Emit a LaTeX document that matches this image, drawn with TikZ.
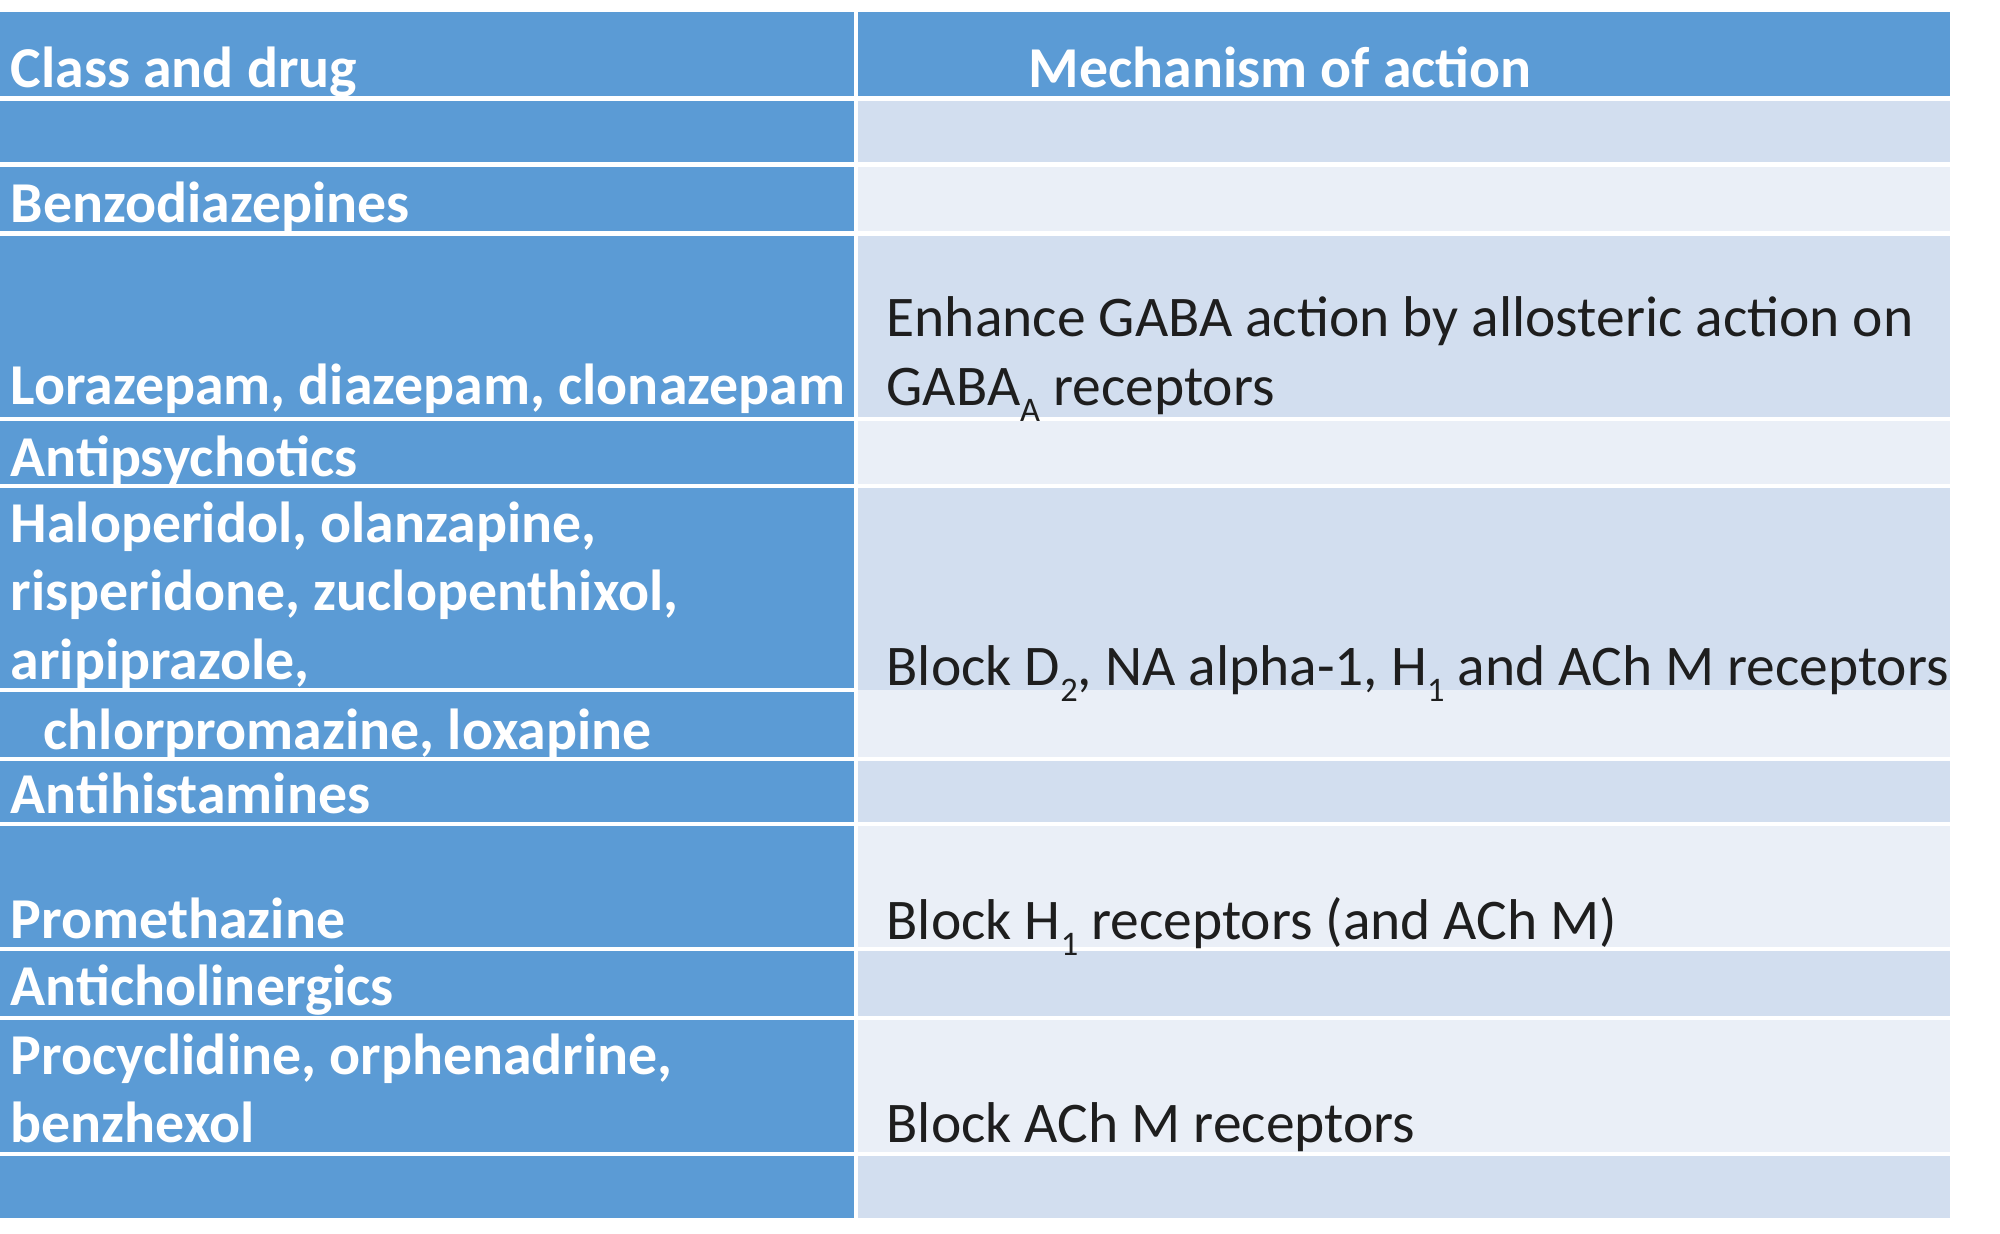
\documentclass[tikz,border=0pt]{standalone}
\usepackage{fontspec}
\setmainfont{Carlito}
\usepackage{tikz}
\usetikzlibrary{positioning}

\definecolor{hdrblue}{HTML}{5B9BD5}
\definecolor{banddark}{HTML}{D2DEEF}
\definecolor{bandlight}{HTML}{EAEFF7}
\definecolor{inkdark}{HTML}{1E1E1E}
\newcommand{\lowsub}[1]{\raisebox{-0.28em}{\fontsize{9.8}{9.8}\selectfont #1}}

\begin{document}
\begin{tikzpicture}[x=0.01cm,y=-0.01cm,
    sep/.style={draw=white,line width=1.2pt},
    cell/.style={anchor=base west,inner sep=0pt,font=\fontsize{16.35}{19.9}\selectfont}]
    \useasboundingbox (0,0) rectangle (2000,1233);
    % blue header and first column
    \fill[hdrblue] (0,12) rectangle (1950,98);
    \fill[hdrblue] (0,98) rectangle (855,1218);
    % banded rows of the right column
    \foreach \ytop/\ybot/\band in {98/165/banddark,165/234/bandlight,234/419/banddark,
        419/486/bandlight,486/690/banddark,690/759/bandlight,759/824/banddark,
        824/949/bandlight,949/1018/banddark,1018/1154/bandlight,1154/1218/banddark}
      \fill[\band] (856,\ytop) rectangle (1950,\ybot);
    % white rules
    \foreach \y in {98.5,164.5,233.5,419,486,759,824,949,1018,1154}
      \draw[sep] (0,\y) -- (1950,\y);
    \draw[sep] (0,690) -- (855,690);
    \draw[sep] (856,12) -- (856,1218);

    \begin{scope}[every node/.style={cell,text=white,font=\fontsize{16.45}{20}\selectfont\bfseries}]
      \node (classhdr) at (10,87) {Class and drug};
      \node (mechhdr) at (1028,87) {Mechanism of action};
      \node (benzo) at (10,222) {Benzodiazepines};
      \node (lora) at (10,404) {Lorazepam, diazepam, clonazepam};
      \node (antipsy) at (10,476) {Antipsychotics};
      \node (halo) at (10,542) {Haloperidol, olanzapine,};
      \node (risp) at (10,610) {risperidone, zuclopenthixol,};
      \node (arip) at (10,679) {aripiprazole,};
      \node (chlor) at (43,749) {chlorpromazine, loxapine};
      \node (antihist) at (10,813) {Antihistamines};
      \node (prometh) at (10,938) {Promethazine};
      \node (antichol) at (10,1005) {Anticholinergics};
      \node (procyc) at (10,1074) {Procyclidine, orphenadrine,};
      \node (benzh) at (10,1142) {benzhexol};
    \end{scope}

    \begin{scope}[every node/.style={cell,text=inkdark}]
      \node (gabaone) at (886,336) {Enhance GABA action by allosteric action on};
      \node (gabatwo) at (886,405) {GABA\lowsub{A} receptors};
      \node (blockd) at (886,685) {Block D\lowsub{2}, NA alpha-1, H\lowsub{1} and ACh M receptors};
      \node (blockh) at (886,939) {Block H\lowsub{1} receptors (and ACh M)};
      \node (blockach) at (886,1142) {Block ACh M receptors};
    \end{scope}
\end{tikzpicture}
\end{document}
